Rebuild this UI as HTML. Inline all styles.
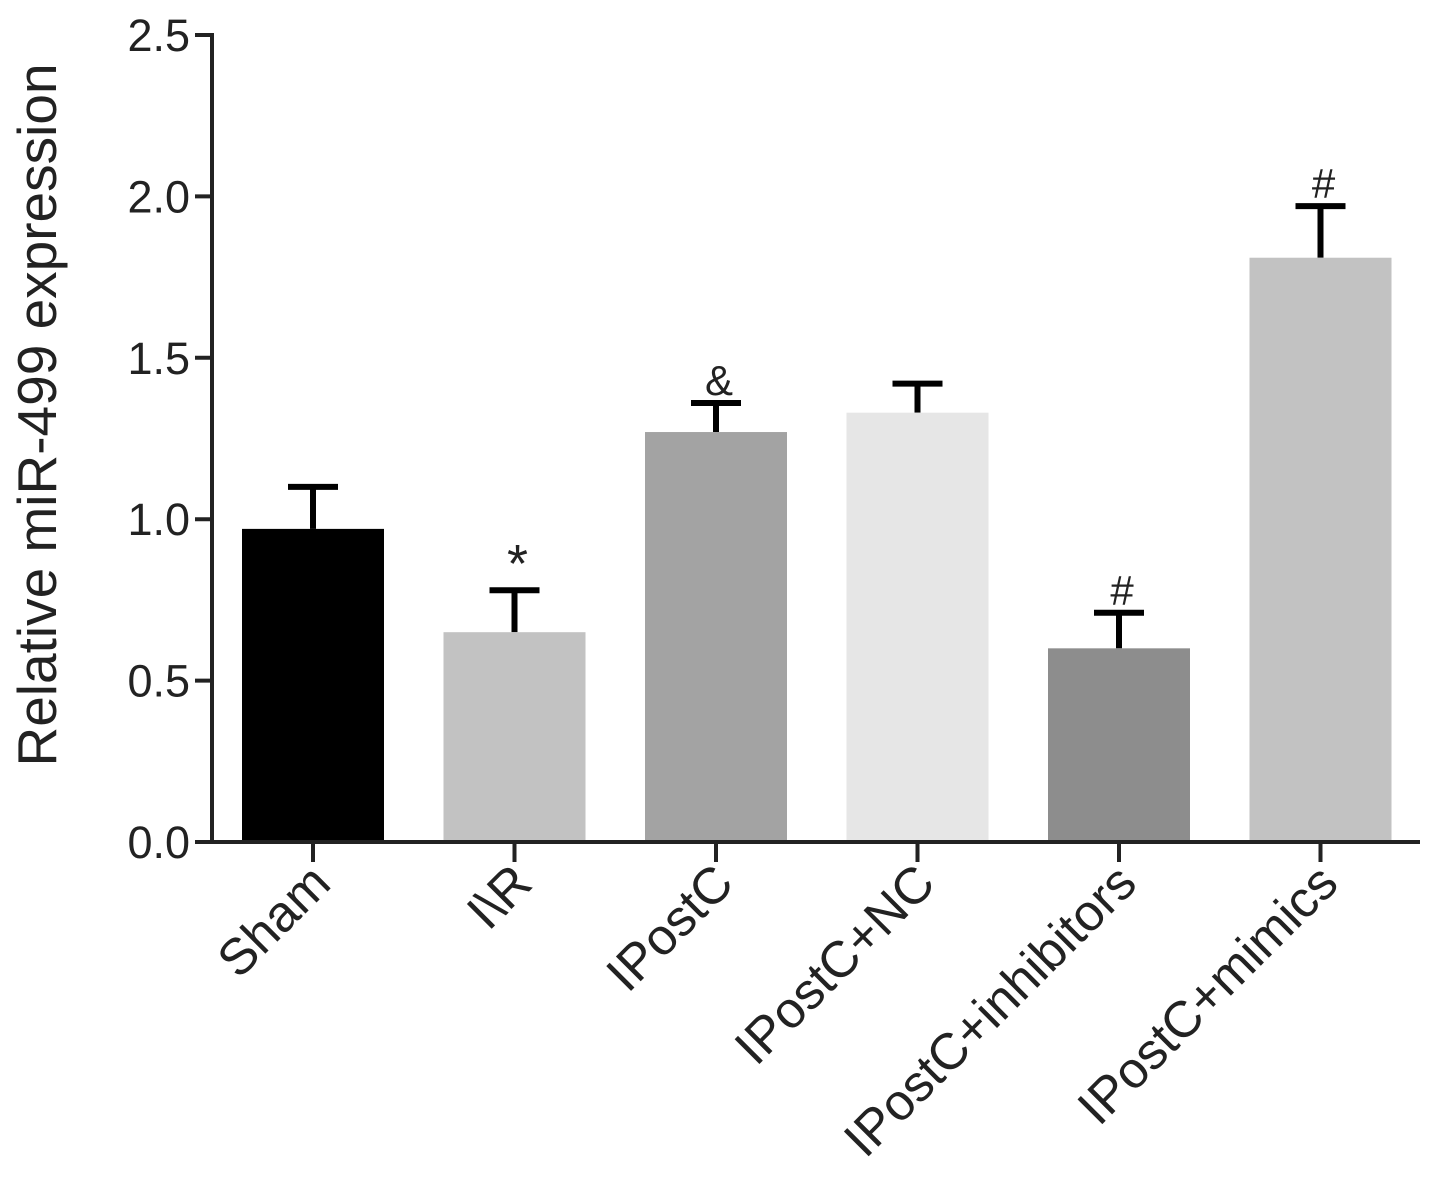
<!DOCTYPE html>
<html><head><meta charset="utf-8"><style>
body{margin:0;background:#fff}
svg text{font-family:"Liberation Sans",Arial,sans-serif;fill:#222}
</style></head><body>
<svg id="chart" width="1441" height="1192" viewBox="0 0 1441 1192"></svg>
<script>
const categories=["Sham","I\\R","IPostC","IPostC+NC","IPostC+inhibitors","IPostC+mimics"];
const means=[0.97,0.65,1.27,1.33,0.60,1.81];
const errors=[0.13,0.13,0.09,0.09,0.11,0.16];
const marks=["","*","&","","#","#"];
const yTicks=[0,0.5,1,1.5,2,2.5];
const yTickLabels=["0.0","0.5","1.0","1.5","2.0","2.5"];
const colors=["#000000","#c2c2c2","#a3a3a3","#e6e6e6","#8d8d8d","#c2c2c2"];
const NS="http://www.w3.org/2000/svg";
const svg=document.getElementById('chart');
const x0=212,x1=1420,y0=842,yTop=35,band=201.5,bw=142;
const y=v=>y0-(v/2.5)*(y0-yTop);
const xc=i=>313+i*band;
function mk(t,a,p){const e=document.createElementNS(NS,t);for(const k in a)e.setAttribute(k,a[k]);(p||svg).appendChild(e);return e;}
categories.forEach((c,i)=>{
 const g=mk('g',{});
 
 
 const top=y(means[i]),et=y(means[i]+errors[i]);
 mk('line',{x1:xc(i),x2:xc(i),y1:top,y2:et,stroke:'#000','stroke-width':6},g);
 mk('line',{x1:xc(i)-25,x2:xc(i)+25,y1:et,y2:et,stroke:'#000','stroke-width':6},g);
 mk('rect',{x:xc(i)-bw/2,y:top,width:bw,height:y0-top,fill:colors[i]},g);
 if(marks[i]){const t=mk('text',{x:xc(i)+3,y:et-8,'text-anchor':'middle','font-size':marks[i]=='*'?54:42},g);t.textContent=marks[i];
  
  }
 mk('line',{x1:xc(i),x2:xc(i),y1:y0,y2:862,stroke:'#222','stroke-width':4});
 const l=mk('text',{x:xc(i)+20,y:886,'text-anchor':'end','font-size':51,transform:`rotate(-45 ${xc(i)+20} 886)`});
 l.textContent=c;
 
 
});
yTicks.forEach((v,i)=>{
 mk('line',{x1:195,x2:x0,y1:y(v),y2:y(v),stroke:'#222','stroke-width':4});
 const t=mk('text',{x:190,y:y(v)+16,'text-anchor':'end','font-size':45});
 t.textContent=yTickLabels[i];
 
 
});
const ya=mk('line',{x1:x0,x2:x0,y1:yTop-2,y2:y0+2,stroke:'#222','stroke-width':4});


const xa=mk('line',{x1:x0,x2:x1,y1:y0,y2:y0,stroke:'#222','stroke-width':4});


const yt=mk('text',{x:56,y:415,'text-anchor':'middle','font-size':55,transform:'rotate(-90 56 415)'});
yt.textContent="Relative miR-499 expression";


</script>
</body></html>
